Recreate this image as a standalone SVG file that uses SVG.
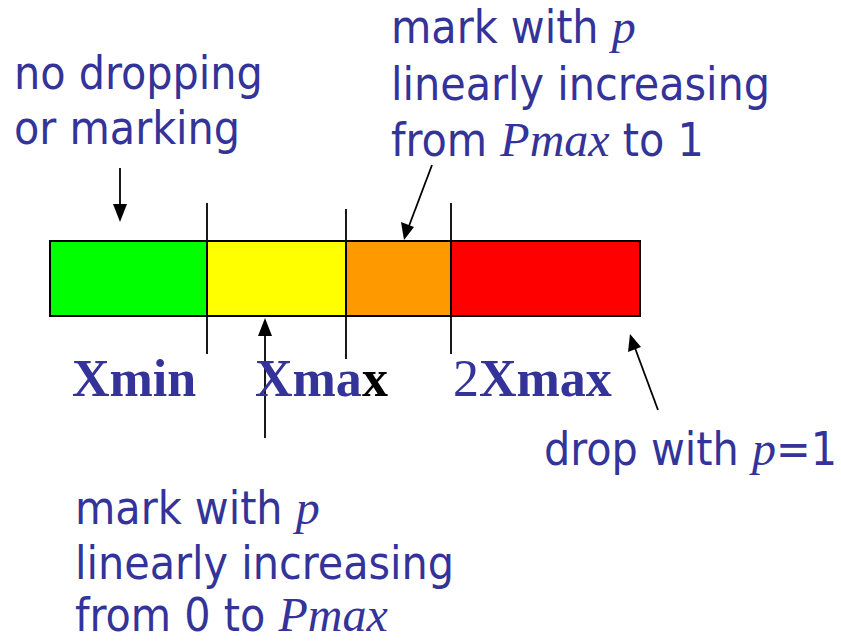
<svg xmlns="http://www.w3.org/2000/svg" width="841" height="644" viewBox="0 0 841 644">
<style>
.t{font-family:"DejaVu Sans Condensed","DejaVu Sans",sans-serif;font-stretch:condensed;font-size:46px;fill:#333399}
.i{font-family:"Liberation Serif",serif;font-style:italic;font-size:48px}
.b{font-family:"Liberation Serif",serif;font-weight:bold;font-size:52px;fill:#333399}
.seg{stroke:#000;stroke-width:2}
.ln{stroke:#000;stroke-width:1.8;fill:none}
</style>
<rect width="841" height="644" fill="#fff"/>
<g id="bar">
<rect class="seg" x="50" y="241" width="157" height="75" fill="#00ff00"/>
<rect class="seg" x="207" y="241" width="139" height="75" fill="#ffff00"/>
<rect class="seg" x="346" y="241" width="105" height="75" fill="#ff9900"/>
<rect class="seg" x="451" y="241" width="189" height="75" fill="#ff0000"/>
</g>
<g id="ticks">
<line class="ln" x1="207" y1="203" x2="207" y2="354"/>
<line class="ln" x1="346" y1="209" x2="346" y2="359"/>
<line class="ln" x1="451" y1="203" x2="451" y2="354"/>
</g>
<g id="connectors">
<line class="ln" x1="120" y1="168" x2="120" y2="206"/>
<path d="M113,204 L127,204 L120,222 Z"/>
<line class="ln" x1="432" y1="165" x2="409" y2="226"/>
<path d="M401,222 L414,227 L404,240 Z"/>
<line class="ln" x1="265" y1="438" x2="265" y2="334"/>
<path d="M258,336 L272,336 L265,318 Z"/>
<line class="ln" x1="658" y1="410" x2="635" y2="348"/>
<path d="M628,352 L641,347 L630,334 Z"/>
</g>
<g id="label-nodrop">
<text class="t" x="14" y="89">no dropping</text>
<text class="t" x="14" y="144">or marking</text>
</g>
<g id="label-mark-top">
<text class="t" x="391" y="43">mark with <tspan class="i">p</tspan></text>
<text class="t" x="391" y="100">linearly increasing</text>
<text class="t" x="391" y="156">from <tspan class="i">Pmax</tspan> to 1</text>
</g>
<g id="label-mark-bottom">
<text class="t" x="75" y="524">mark with <tspan class="i">p</tspan></text>
<text class="t" x="75" y="579">linearly increasing</text>
<text class="t" x="75" y="631">from 0 to <tspan class="i">Pmax</tspan></text>
</g>
<g id="label-drop">
<text class="t" x="544" y="465">drop with <tspan class="i">p</tspan>=1</text>
</g>
<g id="axis-labels">
<text class="b" x="72" y="396">Xmin</text>
<text class="b" x="255" y="396">Xma<tspan fill="#000">x</tspan></text>
<text class="b" x="453" y="396"><tspan font-weight="normal">2</tspan>Xmax</text>
</g>
</svg>
